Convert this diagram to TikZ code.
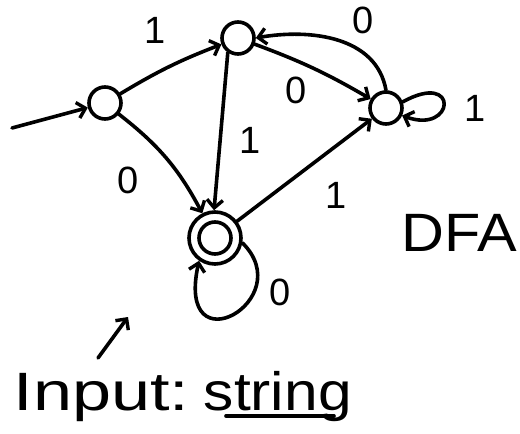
\documentclass[tikz,border=0pt]{standalone}
\usepackage{fontspec}
\setmainfont{Liberation Sans}
\usetikzlibrary{arrows.meta}
\begin{document}
\begin{tikzpicture}[x=1pt,y=-1pt,
  every path/.style={line width=3.6pt,line cap=round,line join=round},
  st/.style={draw,circle,minimum size=32pt,inner sep=0pt,line width=3.6pt},
  edge/.style={-{Straight Barb[length=8pt,width=16pt,line width=3.4pt]},line width=3.6pt},
  lab/.style={font=\fontsize{38}{42}\selectfont,inner sep=0pt},
  big/.style={font=\fontsize{54}{60}\selectfont,inner sep=0pt,anchor=base west}]
\useasboundingbox (0,0) rectangle (520,434);
\node[st] (q0) at (105,103) {};
\node[st] (q1) at (238,38) {};
\node[st] (q2) at (386,108) {};
\node[st,minimum size=52pt] (q3) at (215,238) {};
\node[st,minimum size=32pt] (q3i) at (q3) {};
\coordinate (s) at (12,128);
\draw[edge] (s) -- (q0);
\draw[edge] (q0) to[bend left=5] (q1);
\draw[edge] (q1) to[bend left=5] (q2);
\draw[edge] (q2.north) to[out=100,in=10] (q1.east);
\draw[edge] (q1.-125) to (q3.92);
\draw[edge] (q0) to[bend left=12] (q3);
\draw[edge] (q3) to (q2);
\draw[edge] (q2.20) .. controls (460,70) and (455,135) .. (q2.-25);
\draw[edge] (q3.-10) .. controls (300,300) and (175,370) .. (q3.-125);
\node[lab] (l01) at (155,30) {1};
\node[lab] (l12) at (296,90) {0};
\node[lab] (l21) at (363,20) {0};
\node[lab] (l13) at (250,140) {1};
\node[lab] (l03) at (128,180) {0};
\node[lab] (l32) at (336,195) {1};
\node[lab] (l22) at (475,108) {1};
\node[lab] (l33) at (280,292) {0};
\node[big] (dfa) at (400,251) {\scalebox{1.1}[1]{DFA}};
\coordinate (p1) at (98,358);
\coordinate (p2) at (128,317);
\draw[edge] (p1) -- (p2);
\node[big] (inp) at (12,410) {\scalebox{1.3}[1]{Input:}};
\node[big] (str) at (202,410) {\scalebox{1.12}[1]{string}};
\coordinate (u1) at (226,416);
\coordinate (u2) at (334,416);
\draw (u1) -- (u2);
\end{tikzpicture}
\end{document}
